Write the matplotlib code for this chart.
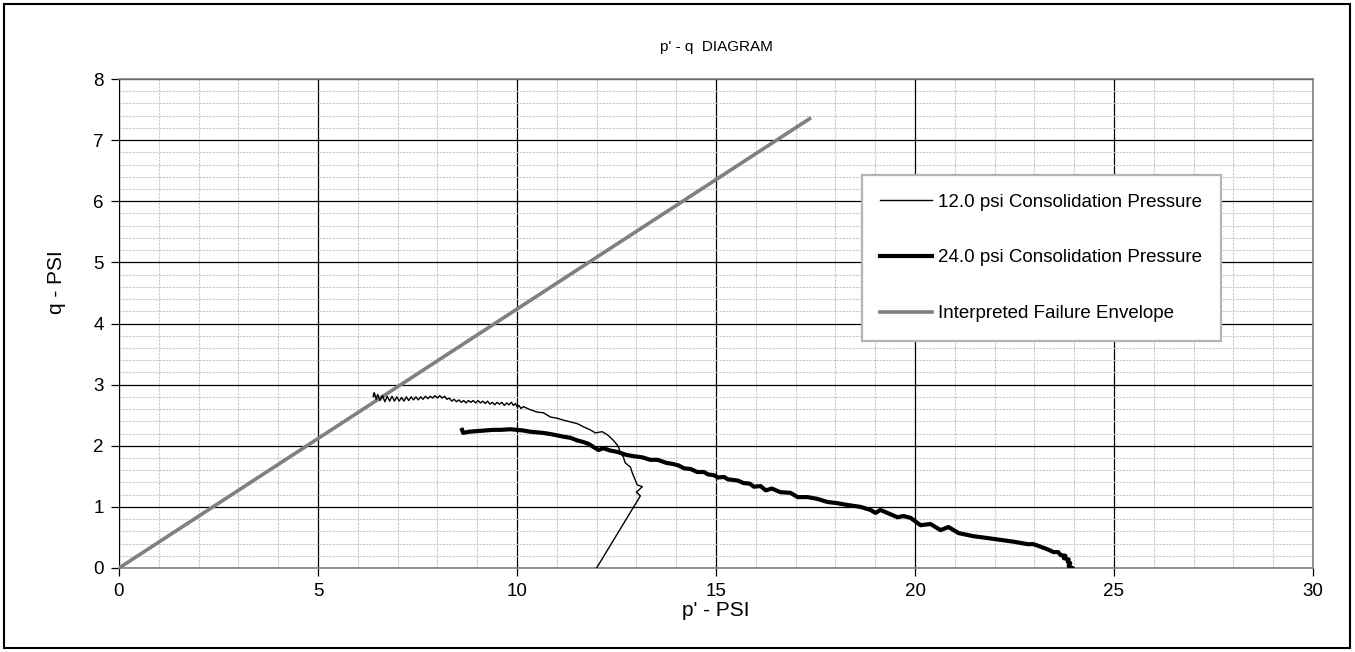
import numpy as np
import matplotlib.pyplot as plt
from matplotlib.ticker import MultipleLocator, FixedLocator
from matplotlib.patches import Rectangle

plt.rcParams['font.family'] = ['Liberation Sans', 'DejaVu Sans']

# 12.0 psi test (p', q)
p12 = [12.00, 13.10, 13.00, 13.15, 13.02, 12.97, 12.90, 12.85, 12.72, 12.67,
       12.60, 12.55, 12.52, 12.42, 12.27, 12.14, 11.97, 11.84, 11.67, 11.52,
       11.34, 11.16, 11.01, 10.84, 10.66, 10.51, 10.33, 10.16,
       10.10, 10.05, 10.01, 9.96, 9.91, 9.86, 9.80, 9.74, 9.68, 9.62,
       9.56, 9.50, 9.44, 9.38, 9.32, 9.26, 9.20, 9.14, 9.08, 9.02,
       8.96, 8.90, 8.84, 8.78, 8.72, 8.66, 8.60, 8.54, 8.48, 8.42,
       8.36, 8.30, 8.24, 8.18, 8.12, 8.06, 8.00, 7.94, 7.88, 7.82,
       7.76, 7.70, 7.64, 7.58, 7.52, 7.46, 7.40, 7.34, 7.28, 7.22,
       7.16, 7.10, 7.04, 6.98, 6.92, 6.86, 6.80, 6.74, 6.68, 6.62,
       6.56, 6.50, 6.46, 6.42, 6.39, 6.40]
q12 = [0.00, 1.18, 1.24, 1.33, 1.36, 1.44, 1.55, 1.65, 1.72, 1.82,
       1.88, 1.98, 2.01, 2.09, 2.18, 2.23, 2.21, 2.26, 2.31, 2.36,
       2.39, 2.42, 2.45, 2.47, 2.54, 2.55, 2.59, 2.64,
       2.61, 2.66, 2.63, 2.69, 2.66, 2.71, 2.67, 2.70, 2.66, 2.71,
       2.68, 2.71, 2.67, 2.71, 2.68, 2.73, 2.69, 2.73, 2.70, 2.74,
       2.70, 2.74, 2.71, 2.74, 2.70, 2.74, 2.71, 2.75, 2.72, 2.76,
       2.73, 2.78, 2.76, 2.81, 2.78, 2.82, 2.78, 2.82, 2.78, 2.81,
       2.77, 2.81, 2.76, 2.80, 2.75, 2.80, 2.75, 2.80, 2.74, 2.80,
       2.73, 2.79, 2.73, 2.80, 2.73, 2.81, 2.73, 2.81, 2.72, 2.82,
       2.74, 2.84, 2.76, 2.86, 2.80, 2.86]

# 24.0 psi test
p24 = [23.95, 23.86, 23.90, 23.84, 23.86, 23.74, 23.78, 23.66, 23.60, 23.48,
       23.35, 23.23, 22.98, 22.83, 22.48, 22.15, 21.82, 21.47, 21.10, 20.84,
       20.64, 20.39, 20.14, 19.89, 19.71, 19.56, 19.31, 19.13, 19.01, 18.88,
       18.63, 18.31, 18.05, 17.80, 17.55, 17.30, 17.05, 16.87, 16.62,
       16.40, 16.25, 16.12, 15.95, 15.85, 15.69, 15.55, 15.44, 15.30, 15.20,
       15.05, 14.94, 14.80, 14.70, 14.53, 14.36, 14.20, 14.05, 13.93, 13.75,
       13.53, 13.35, 13.15, 12.92, 12.75, 12.52, 12.35, 12.17, 12.05, 11.92,
       11.80, 11.67, 11.50, 11.34, 11.15, 11.01, 10.85, 10.66, 10.50, 10.33,
       10.15, 10.00, 9.83, 9.60, 9.40, 9.20, 9.00, 8.80, 8.65, 8.62]
q24 = [0.00, 0.03, 0.08, 0.10, 0.14, 0.16, 0.20, 0.21, 0.26, 0.26,
       0.30, 0.33, 0.39, 0.39, 0.43, 0.46, 0.49, 0.52, 0.57, 0.67,
       0.62, 0.72, 0.70, 0.82, 0.85, 0.83, 0.90, 0.95, 0.90, 0.95,
       1.00, 1.03, 1.06, 1.08, 1.13, 1.16, 1.16, 1.23, 1.24,
       1.30, 1.27, 1.34, 1.33, 1.38, 1.39, 1.43, 1.44, 1.45, 1.49,
       1.48, 1.52, 1.53, 1.57, 1.57, 1.62, 1.63, 1.68, 1.70, 1.72,
       1.77, 1.77, 1.81, 1.83, 1.85, 1.90, 1.92, 1.96, 1.93, 1.98,
       2.03, 2.06, 2.09, 2.13, 2.15, 2.17, 2.19, 2.21, 2.22, 2.23,
       2.25, 2.26, 2.27, 2.26, 2.26, 2.25, 2.24, 2.23, 2.21, 2.26]

# failure envelope
p_env = [0.0, 17.35]
q_env = [0.0, 7.35]

labels = ["12.0 psi Consolidation Pressure",
          "24.0 psi Consolidation Pressure",
          "Interpreted Failure Envelope"]

fig = plt.figure(figsize=(13.55, 6.52), dpi=100)
ax = fig.add_axes([119/1355, 1 - 568/652, 1194/1355, 489/652])

ax.plot(p12, q12, color='black', lw=1.0, label=labels[0], zorder=4)
ax.plot(p24, q24, color='black', lw=3.0, label=labels[1], zorder=4)
ax.plot(p_env, q_env, color='#808080', lw=2.6, label=labels[2], zorder=3)

ax.set_xlim(0, 30)
ax.set_ylim(0, 8)
ax.xaxis.set_major_locator(MultipleLocator(5))
ax.yaxis.set_major_locator(MultipleLocator(1))
# minor grid every 1 psi / 0.2 psi, skipping the major lines
ax.xaxis.set_minor_locator(FixedLocator([v for v in range(31) if v % 5]))
ax.yaxis.set_minor_locator(FixedLocator([k / 5 for k in range(41) if k % 5]))
ax.grid(which='major', color='black', lw=0.9)
ax.grid(which='minor', color='#c8c8c8', lw=0.8, ls=(0, (2, 1)))
ax.set_axisbelow(True)

ax.tick_params(which='major', direction='out', length=6, width=0.9,
               labelsize=13.5, pad=5)
ax.tick_params(which='minor', length=0)
for s in ['top', 'right', 'bottom']:
    ax.spines[s].set_color('#808080')
    ax.spines[s].set_linewidth(1.2)
ax.spines['left'].set_color('black')

ax.set_xlabel("p' - PSI", fontsize=15, va='center')
ax.xaxis.set_label_coords(0.5, -(611 - 568) / 489)
ax.set_ylabel("q - PSI", fontsize=15, va='center')
ax.yaxis.set_label_coords((57 - 119) / 1194, (568 - 282) / 489)

fig.text(716/1355, 1 - 47/652, "p' - q  DIAGRAM", fontsize=11,
         ha='center', va='center')

leg = ax.legend(loc='upper left', bbox_to_anchor=(0.622, 0.804),
                borderaxespad=0, fontsize=13.5, frameon=True, fancybox=False,
                edgecolor='#b4b4b4', framealpha=1, borderpad=1.0,
                handlelength=2.75, handletextpad=0.32, labelspacing=2.06)
leg.get_frame().set_linewidth(1.6)

# outer chart border
fig.patches.append(Rectangle((4/1355, 4/652), 1346/1355, 644/652,
                             transform=fig.transFigure, fill=False,
                             edgecolor='black', lw=1.5))

fig.savefig("out.png", dpi=100)
